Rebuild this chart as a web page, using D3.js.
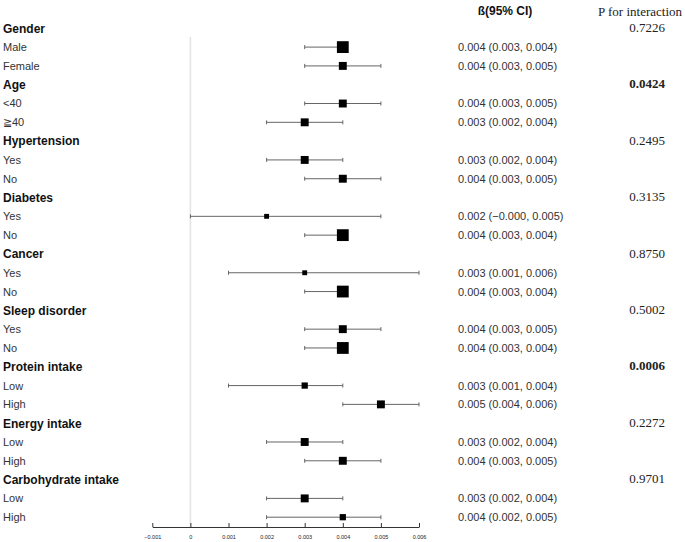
<!DOCTYPE html>
<html>
<head>
<meta charset="utf-8">
<script src="https://cdn.jsdelivr.net/npm/d3@7"></script>
<style>
  html, body { margin: 0; padding: 0; background: #fff; }
  svg { display: block; }
</style>
</head>
<body>
<svg id="chart" width="685" height="542"></svg>
<script>
// ---------------- DATA ----------------
const groupNames = ["Gender", "Age", "Hypertension", "Diabetes", "Cancer",
  "Sleep disorder", "Protein intake", "Energy intake", "Carbohydrate intake"];
const pInteraction = ["0.7226", "0.0424", "0.2495", "0.3135", "0.8750",
  "0.5002", "0.0006", "0.2272", "0.9701"];

const subgroupLabels = ["Male", "Female", "<40", "≧40", "Yes", "No", "Yes", "No",
  "Yes", "No", "Yes", "No", "Low", "High", "Low", "High", "Low", "High"];
const subgroupGroup = [0, 0, 1, 1, 2, 2, 3, 3, 4, 4, 5, 5, 6, 6, 7, 7, 8, 8];
const beta  = [0.004, 0.004, 0.004, 0.003, 0.003, 0.004, 0.002, 0.004, 0.003,
  0.004, 0.004, 0.004, 0.003, 0.005, 0.003, 0.004, 0.003, 0.004];
const lower = [0.003, 0.003, 0.003, 0.002, 0.002, 0.003, 0.000, 0.003, 0.001,
  0.003, 0.003, 0.003, 0.001, 0.004, 0.002, 0.003, 0.002, 0.002];
const upper = [0.004, 0.005, 0.005, 0.004, 0.004, 0.005, 0.005, 0.004, 0.006,
  0.004, 0.005, 0.004, 0.004, 0.006, 0.004, 0.005, 0.004, 0.005];
const weight = [100, 45, 45, 45, 45, 45, 17, 100, 17, 100, 45, 100, 28, 45, 45, 45, 45, 28];
const ciText = [
  "0.004 (0.003, 0.004)", "0.004 (0.003, 0.005)",
  "0.004 (0.003, 0.005)", "0.003 (0.002, 0.004)",
  "0.003 (0.002, 0.004)", "0.004 (0.003, 0.005)",
  "0.002 (−0.000, 0.005)", "0.004 (0.003, 0.004)",
  "0.003 (0.001, 0.006)", "0.004 (0.003, 0.004)",
  "0.004 (0.003, 0.005)", "0.004 (0.003, 0.004)",
  "0.003 (0.001, 0.004)", "0.005 (0.004, 0.006)",
  "0.003 (0.002, 0.004)", "0.004 (0.003, 0.005)",
  "0.003 (0.002, 0.004)", "0.004 (0.002, 0.005)"
];
const xTicks = [-0.001, 0, 0.001, 0.002, 0.003, 0.004, 0.005, 0.006];
const betaHeader = "ß(95% CI)";
const pHeader = "P for interaction";

// ---------------- BUILD ROWS ----------------
const rows = [];
groupNames.forEach((g, gi) => {
  rows.push({ type: "head", label: g, p: pInteraction[gi] });
  subgroupLabels.forEach((s, si) => {
    if (subgroupGroup[si] === gi) {
      rows.push({ type: "item", label: s, beta: beta[si], lo: lower[si], hi: upper[si],
        w: weight[si], ci: ciText[si] });
    }
  });
});
rows.forEach((r, i) => r.idx = i);

// ---------------- SCALES ----------------
const svg = d3.select("#chart");
const x = d3.scaleLinear().domain([-0.001, 0.006]).range([152.3, 419]);
const y = d3.scalePoint().domain(d3.range(rows.length)).range([28.3, 517.2]);
const size = d3.scaleSqrt().domain([0, 100]).range([0, 11.8]);
const axisY = 527;

// zero reference line
svg.append("line")
  .attr("x1", x(0)).attr("x2", x(0))
  .attr("y1", 37).attr("y2", axisY)
  .attr("stroke", "#e2e2e2").attr("stroke-width", 1.5);

// axis
const axis = d3.axisTop(x).tickValues(xTicks).tickSize(4).tickSizeOuter(0)
  .tickFormat(d => d === 0 ? "0" : d3.format(".3f")(d));
const ag = svg.append("g").attr("transform", `translate(0,${axisY})`).call(axis);
ag.select(".domain").attr("stroke", "#333").attr("stroke-width", 1);
ag.selectAll(".tick line").attr("stroke", "#333");
ag.selectAll(".tick text")
  .attr("y", 10).attr("dy", "0.35em")
  .attr("font-family", "Liberation Sans, Arial, sans-serif")
  .attr("font-size", 5.5).attr("fill", "#222");

// labels
svg.append("g").selectAll("text").data(rows).join("text")
  .attr("x", 3).attr("y", d => y(d.idx)).attr("dy", "0.36em")
  .attr("font-family", "Liberation Sans, Arial, sans-serif")
  .attr("font-size", d => d.type === "head" ? 12 : 11)
  .attr("font-weight", d => d.type === "head" ? "bold" : "normal")
  .attr("fill", d => d.type === "head" ? "#111" : "#333")
  .text(d => d.label);

const items = rows.filter(r => r.type === "item");

// CI lines
const ci = svg.append("g").selectAll("g").data(items).join("g");
ci.append("line")
  .attr("x1", d => x(d.lo)).attr("x2", d => x(d.hi))
  .attr("y1", d => y(d.idx)).attr("y2", d => y(d.idx))
  .attr("stroke", "#666").attr("stroke-width", 1);
ci.append("line")
  .attr("x1", d => x(d.lo)).attr("x2", d => x(d.lo))
  .attr("y1", d => y(d.idx) - 2).attr("y2", d => y(d.idx) + 2)
  .attr("stroke", "#666").attr("stroke-width", 1);
ci.append("line")
  .attr("x1", d => x(d.hi)).attr("x2", d => x(d.hi))
  .attr("y1", d => y(d.idx) - 2).attr("y2", d => y(d.idx) + 2)
  .attr("stroke", "#666").attr("stroke-width", 1);
ci.append("rect")
  .attr("x", d => x(d.beta) - size(d.w) / 2)
  .attr("y", d => y(d.idx) - size(d.w) / 2)
  .attr("width", d => size(d.w)).attr("height", d => size(d.w))
  .attr("fill", "#000");

// CI text
svg.append("g").selectAll("text").data(items).join("text")
  .attr("x", 458).attr("y", d => y(d.idx)).attr("dy", "0.36em")
  .attr("font-family", "Liberation Sans, Arial, sans-serif")
  .attr("font-size", 11).attr("fill", "#333")
  .text(d => d.ci);

// headers
svg.append("text").attr("x", 505).attr("y", 11).attr("dy", "0.36em")
  .attr("text-anchor", "middle")
  .attr("font-family", "Liberation Sans, Arial, sans-serif")
  .attr("font-size", 12).attr("font-weight", "bold").attr("fill", "#111")
  .text(betaHeader);
svg.append("text").attr("x", 640).attr("y", 11).attr("dy", "0.36em")
  .attr("text-anchor", "middle")
  .attr("font-family", "Liberation Serif, Times New Roman, serif")
  .attr("font-size", 13).attr("fill", "#222")
  .text(pHeader);

// p values
const heads = rows.filter(r => r.type === "head");
svg.append("g").selectAll("text").data(heads).join("text")
  .attr("x", 665).attr("y", d => y(d.idx) - 1).attr("dy", "0.36em")
  .attr("text-anchor", "end")
  .attr("font-family", "Liberation Serif, Times New Roman, serif")
  .attr("font-size", 13)
  .attr("font-weight", d => +d.p < 0.05 ? "bold" : "normal")
  .attr("fill", "#222")
  .text(d => d.p);
</script>
</body>
</html>
